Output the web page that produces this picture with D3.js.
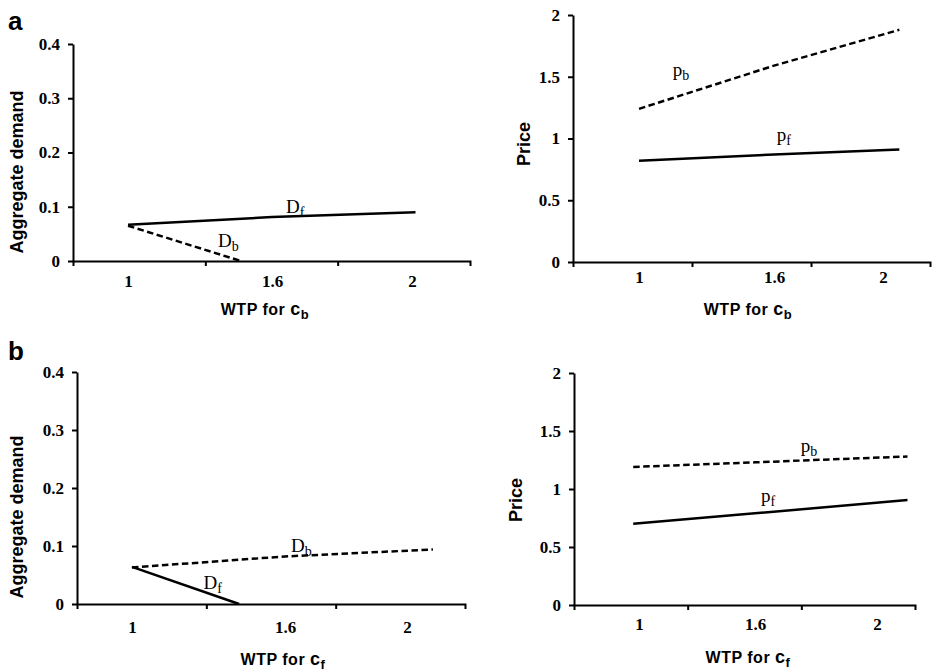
<!DOCTYPE html>
<meta charset="utf-8">
<style>
body { margin: 0; background: #fff; }
.domain, .tick line { stroke: #000; stroke-width: 2px; }
</style>
<svg width="932" height="671"></svg>
<script src="https://d3js.org/d3.v7.min.js"></script>
<script>
// x categories (WTP) and y ticks
var xLabels = ["1", "1.6", "2"];
var xLabelVals = [1, 1.6, 2];
var demandTicks = [0, 0.1, 0.2, 0.3, 0.4];
var priceTicks = [0, 0.5, 1, 1.5, 2];

// a: WTP for c_b
var aDemandF = [[1, 0.067], [1.6, 0.081], [2.01, 0.090]];
var aDemandB = [[1, 0.065], [1.47, 0]];
var aPriceB = [[1, 1.24], [1.6, 1.59], [2.06, 1.88]];
var aPriceF = [[1, 0.82], [1.6, 0.87], [2.06, 0.91]];

// b: WTP for c_f
var bDemandB = [[1, 0.063], [1.6, 0.082], [2.085, 0.094]];
var bDemandF = [[1, 0.064], [1.42, 0]];
var bPriceB = [[0.97, 1.19], [1.6, 1.23], [2.1, 1.28]];
var bPriceF = [[0.97, 0.70], [1.6, 0.79], [2.1, 0.905]];

var svg = d3.select("svg");
var serif = '"Liberation Serif", "Times New Roman", serif',
    sans = '"Liberation Sans", Arial, sans-serif';

var panels = [
  {left: 73, right: 470, top: 44, bottom: 261, xs: [128, 272, 412], pad: 14,
   ymax: 0.4, yticks: demandTicks, ytitle: "Aggregate demand", ytx: 23, yty: 172,
   xsub: "b", xtx: 265, xty: 315,
   series: [{data: aDemandF, dash: false, name: "D", sub: "f", at: [1.64, 0.088]},
            {data: aDemandB, dash: true, name: "D", sub: "b", at: [1.375, 0.026]}]},
  {left: 573, right: 930, top: 15, bottom: 262, xs: [639, 774, 883], pad: 9,
   ymax: 2, yticks: priceTicks, ytitle: "Price", ytx: 530, yty: 144,
   xsub: "b", xtx: 748, xty: 315,
   series: [{data: aPriceB, dash: true, name: "p", sub: "b", at: [1.15, 1.51]},
            {data: aPriceF, dash: false, name: "p", sub: "f", at: [1.61, 0.98]}]},
  {left: 77, right: 465, top: 372, bottom: 604, xs: [132, 285, 407], pad: 17,
   ymax: 0.4, yticks: demandTicks, ytitle: "Aggregate demand", ytx: 23, yty: 517,
   xsub: "f", xtx: 283, xty: 665,
   series: [{data: bDemandB, dash: true, name: "D", sub: "b", at: [1.62, 0.089]},
            {data: bDemandF, dash: false, name: "D", sub: "f", at: [1.28, 0.026]}]},
  {left: 574, right: 915, top: 373, bottom: 605, xs: [639, 755, 877], pad: 13,
   ymax: 2, yticks: priceTicks, ytitle: "Price", ytx: 522, yty: 500,
   xsub: "f", xtx: 748, xty: 663,
   series: [{data: bPriceB, dash: true, name: "p", sub: "b", at: [1.75, 1.32]},
            {data: bPriceF, dash: false, name: "p", sub: "f", at: [1.62, 0.89]}]}
];

function tickFont(a) {
  a.selectAll("text")
    .attr("font-family", serif)
    .attr("font-weight", "bold")
    .attr("font-size", 17)
    .attr("fill", "#000");
}

panels.forEach(function(p) {
  var g = svg.append("g");
  // label positions are not evenly spaced in WTP, so use a piecewise scale
  var base = d3.scaleLinear().domain(xLabelVals).range(p.xs);
  var x = d3.scaleLinear()
    .domain([base.invert(p.left)].concat(xLabelVals, [base.invert(p.right)]))
    .range([p.left].concat(p.xs, [p.right]));
  var y = d3.scaleLinear().domain([0, p.ymax]).range([p.bottom, p.top]);

  var w = p.right - p.left;
  var marks = [p.left + w / 3, p.left + 2 * w / 3].map(x.invert);

  g.append("g")
    .attr("transform", "translate(0," + p.bottom + ")")
    .call(d3.axisBottom(x).tickValues(marks).tickFormat("").tickSize(5).tickSizeOuter(5));
  g.append("g")
    .attr("transform", "translate(0," + p.bottom + ")")
    .call(d3.axisBottom(x).tickValues(xLabelVals).tickFormat(function(d, i) { return xLabels[i]; })
      .tickSize(0).tickPadding(p.pad))
    .call(function(a) { a.select(".domain").remove(); })
    .call(tickFont);
  g.append("g")
    .attr("transform", "translate(" + p.left + ",0)")
    .call(d3.axisLeft(y).tickValues(p.yticks).tickFormat(d3.format("")).tickSize(5).tickSizeOuter(0).tickPadding(8))
    .call(tickFont);

  var line = d3.line().x(function(d) { return x(d[0]); }).y(function(d) { return y(d[1]); });
  p.series.forEach(function(s) {
    g.append("path")
      .attr("d", line(s.data))
      .attr("fill", "none")
      .attr("stroke", "#000")
      .attr("stroke-width", 2.5)
      .attr("stroke-dasharray", s.dash ? "6.5,3.5" : null);
    var t = g.append("text")
      .attr("font-family", serif).attr("font-size", 19)
      .attr("x", x(s.at[0])).attr("y", y(s.at[1]));
    t.append("tspan").text(s.name);
    t.append("tspan").attr("dy", 4).attr("font-size", 14).text(s.sub);
  });

  // axis titles
  var xt = g.append("text")
    .attr("font-family", sans).attr("font-weight", "bold").attr("font-size", 16)
    .attr("x", p.xtx).attr("y", p.xty).attr("text-anchor", "middle")
    .style("letter-spacing", "0.5px");
  xt.append("tspan").text("WTP for ");
  xt.append("tspan").attr("font-size", 18).text("c");
  xt.append("tspan").attr("dy", 4).attr("font-size", 13).text(p.xsub);

  g.append("text")
    .attr("font-family", sans).attr("font-weight", "bold").attr("font-size", 18)
    .attr("transform", "translate(" + p.ytx + "," + p.yty + ") rotate(-90)")
    .attr("text-anchor", "middle")
    .text(p.ytitle);
});

svg.append("text").attr("font-family", sans).attr("font-weight", "bold").attr("font-size", 26)
  .attr("x", 8).attr("y", 30).text("a");
svg.append("text").attr("font-family", sans).attr("font-weight", "bold").attr("font-size", 26)
  .attr("x", 8).attr("y", 360).text("b");
</script>
